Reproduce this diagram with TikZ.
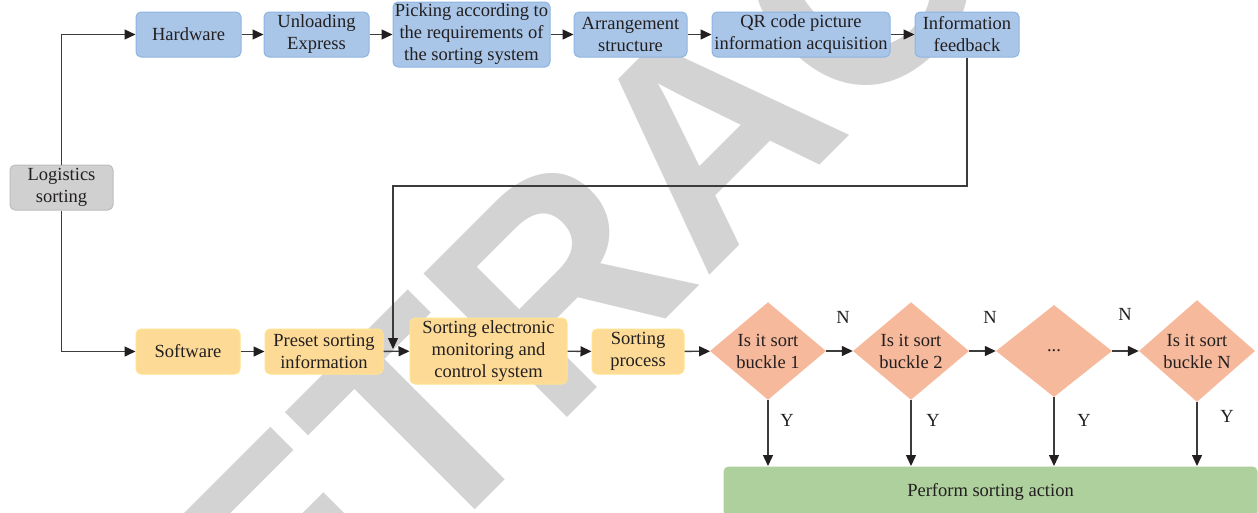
\documentclass[tikz,border=0pt]{standalone}
\usepackage{fontspec}
\setmainfont{Liberation Serif}
\newfontfamily\markfont{Liberation Sans}
\usetikzlibrary{arrows.meta,shapes.geometric}

\definecolor{inkc}{HTML}{231F20}
\definecolor{linec}{HTML}{3C3C3C}
\definecolor{markc}{HTML}{D3D3D3}
\definecolor{bluefill}{HTML}{A9C6E8}
\definecolor{blueline}{HTML}{8DB4E2}
\definecolor{yelfill}{HTML}{FDDB97}
\definecolor{yelline}{HTML}{FDE48E}
\definecolor{grayfill}{HTML}{D0D0D0}
\definecolor{grayline}{HTML}{BDBDBD}
\definecolor{salfill}{HTML}{F6B99B}
\definecolor{greenfill}{HTML}{ADD09D}

\tikzset{
  box/.style={rectangle, rounded corners=5pt, draw, line width=1pt,
    inner sep=0pt, align=center, text=inkc,
    font=\fontsize{18.5}{22}\selectfont},
  hwbox/.style={box, fill=bluefill, draw=blueline},
  swbox/.style={box, fill=yelfill, draw=yelline},
  rootbox/.style={box, fill=grayfill, draw=grayline},
  decide/.style={diamond, fill=salfill, draw=none, inner sep=0pt,
    minimum width=116pt, minimum height=92pt, align=center, text=inkc,
    font=\fontsize{18.5}{22}\selectfont},
  actbox/.style={box, fill=greenfill, draw=none},
  flow/.style={draw=linec, line width=1.4pt,
    -{Triangle[length=11pt,width=10pt,fill=inkc,color=inkc]}},
  lbl/.style={text=inkc, inner sep=0pt, font=\fontsize{18.5}{22}\selectfont}
}

\begin{document}
\begin{tikzpicture}[x=1pt,y=-1pt]
\useasboundingbox (0,0) rectangle (1258,512);
\clip (0,0) rectangle (1258,512);

% watermark behind the chart
\node[rotate=45, anchor=base west, inner sep=0pt, text=markc,
  font=\markfont\bfseries\fontsize{295}{295}\selectfont] (mark)
  at (136.4,848.6) {RETRACTED};

% root
\node[rootbox, minimum width=103pt, minimum height=45pt] (log) at (61.5,187.5) {Logistics\\sorting};

% hardware branch
\node[hwbox, minimum width=105pt, minimum height=45pt] (hw)  at (188.5,34.5) {Hardware};
\node[hwbox, minimum width=105pt, minimum height=45pt] (unl) at (316.5,34.5) {Unloading\\Express};
\node[hwbox, minimum width=157pt, minimum height=65pt] (pick) at (471.5,34.5) {Picking according to\\the requirements of\\the sorting system};
\node[hwbox, minimum width=113pt, minimum height=45pt] (arr) at (630.5,34.5) {Arrangement\\structure};
\node[hwbox, minimum width=178pt, minimum height=45pt] (qr)  at (801,34.5) {QR code picture\\information acquisition};
\node[hwbox, minimum width=104pt, minimum height=45pt] (fb)  at (967,34.5) {Information\\feedback};

% software branch
\node[swbox, minimum width=104pt, minimum height=45pt] (sw)  at (188,351.5) {Software};
\node[swbox, minimum width=118pt, minimum height=45pt] (pre) at (324,351.5) {Preset sorting\\information};
\node[swbox, minimum width=157pt, minimum height=66pt] (sem) at (488.5,351) {Sorting electronic\\monitoring and\\control system};
\node[swbox, minimum width=92pt, minimum height=45pt] (sp)  at (638,351.5) {Sorting\\process};

% decisions
\node[decide] (d1) at (768,351)  {Is it sort\\buckle 1};
\node[decide] (d2) at (911,351)  {Is it sort\\buckle 2};
\node[decide] (d3) at (1054,351) {...};
\node[decide] (dn) at (1197,351) {Is it sort\\buckle N};

% action
\node[actbox, minimum width=534pt, minimum height=50pt, anchor=north west] (act) at (723,466) {\raisebox{3pt}{Perform sorting action}};

% connectors
\draw[flow] (log.north) |- (hw.west);
\draw[flow] (log.south) |- (sw.west);
\draw[flow] (hw) -- (unl);
\draw[flow] (unl) -- (pick);
\draw[flow] (pick) -- (arr);
\draw[flow] (arr) -- (qr);
\draw[flow] (qr) -- (fb);
\draw[flow] (sw) -- (pre);
\draw[flow] (pre) -- (sem);
\draw[flow] (sem) -- (sp);
\draw[flow] (sp) -- (d1);
\draw[flow] (d1) -- (d2);
\draw[flow] (d2) -- (d3);
\draw[flow] (d3) -- (dn);

\coordinate (fbturn) at (393,186);
\coordinate (fbend) at (393,349);
\draw[flow, line width=1.2pt] (fb.south) |- (fbturn) -- (fbend);

\foreach \d in {d1,d2,d3,dn}
  \draw[flow] (\d.south) -- (\d.south |- act.north);

% branch labels
\node[lbl] (n1) at (843,317) {N};
\node[lbl] (n2) at (990,317) {N};
\node[lbl] (n3) at (1125,314) {N};
\node[lbl] (y1) at (787,420) {Y};
\node[lbl] (y2) at (933,420) {Y};
\node[lbl] (y3) at (1084,420) {Y};
\node[lbl] (y4) at (1227,416) {Y};
\end{tikzpicture}
\end{document}
